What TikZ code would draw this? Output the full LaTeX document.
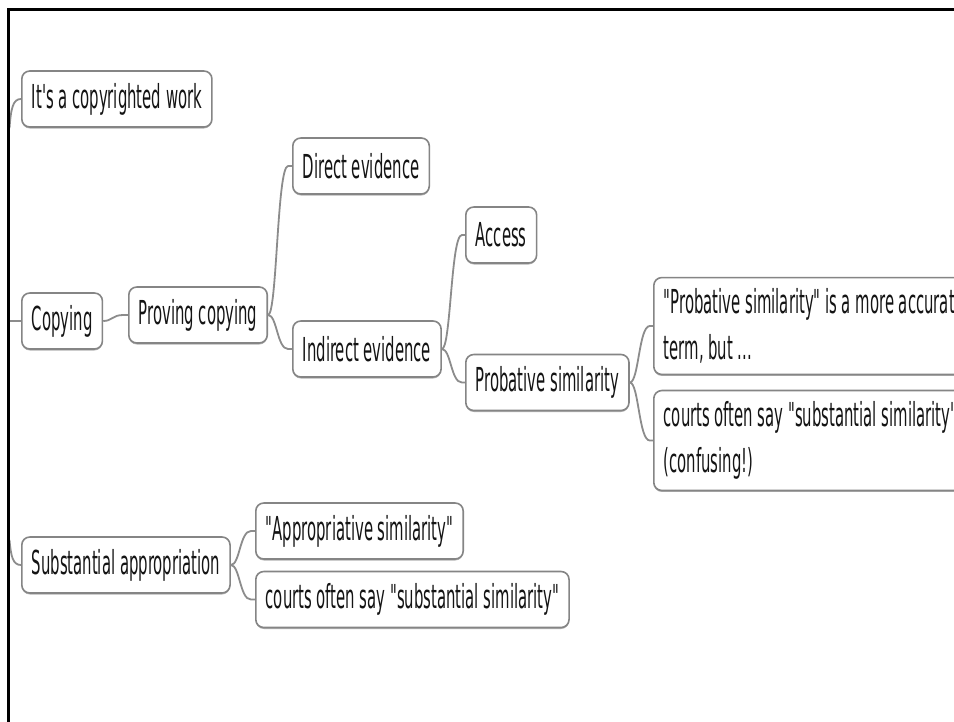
\documentclass[tikz,border=0pt]{standalone}
\usepackage{fontspec}
\setmainfont{DejaVu Sans}[FakeStretch=0.45, Ligatures=TeXOff]
\usetikzlibrary{shadows}
\definecolor{boxgray}{HTML}{858585}
\definecolor{linkgray}{HTML}{8C8C8C}
\definecolor{textblack}{HTML}{141414}
\begin{document}
\begin{tikzpicture}[x=1pt,y=-1pt,
  box/.style={draw=boxgray, line width=1.6pt, rounded corners=8pt, fill=white,
    minimum height=56pt, inner xsep=10pt, inner ysep=0pt, anchor=west,
    font=\fontsize{33}{46}\selectfont, text=textblack,
    drop shadow={shadow xshift=0pt, shadow yshift=-1.5pt, opacity=0.3, fill=black}},
  notebox/.style={box, text width=360pt, align=flush left, inner ysep=11pt},
  conn/.style={draw=linkgray, line width=1.8pt},
  link/.style={conn, to path={(\tikztostart) .. controls ([xshift=9pt]\tikztostart) and ([xshift=9pt]\tikztostart |- \tikztotarget) .. ([xshift=20pt]\tikztostart |- \tikztotarget) -- (\tikztotarget)}}
]
\useasboundingbox (0,0) rectangle (954,721);
\fill[white] (0,0) rectangle (954,721);
\begin{scope}
\clip (0,0) rectangle (954,721);
% nodes
\node[box] (cw) at (21,99) {It's a copyrighted work};
\node[box] (cp) at (21,321) {Copying};
\node[box] (pc) at (128,315) {Proving copying};
\node[box] (de) at (292,166) {Direct evidence};
\node[box] (ie) at (292,349) {Indirect evidence};
\node[box] (ac) at (465,235) {Access};
\node[box] (ps) at (465,382.5) {Probative similarity};
\node[notebox] (n1) at (653,326) {"Probative similarity" is a more accurate\\term, but ...};
\node[notebox] (n2) at (653,440.5) {courts often say "substantial similarity"\\(confusing!)};
\node[box] (sa) at (21,565) {Substantial appropriation};
\node[box] (as) at (255,531) {"Appropriative similarity"};
\node[box] (cs) at (255,599.5) {courts often say "substantial similarity"};
% root connectors entering from the left edge
\coordinate (r1) at (9.5,128);
\coordinate (r2) at (9.5,321);
\coordinate (r3) at (9.5,540);
\draw[conn] (r1) .. controls (11,108) and (13,99) .. (cw.west);
\draw[conn] (r2) -- (cp.west);
\draw[conn] (r3) .. controls (11,557) and (13,565) .. (sa.west);
% tree connectors
\draw[link] (cp.east) to (pc.west);
\draw[link] (pc.east) to (de.west);
\draw[link] (pc.east) to (ie.west);
\draw[link] (ie.east) to (ac.west);
\draw[link] (ie.east) to (ps.west);
\draw[link] (ps.east) to (n1.west);
\draw[link] (ps.east) to (n2.west);
\draw[link] (sa.east) to (as.west);
\draw[link] (sa.east) to (cs.west);
% frame
\draw[line width=3pt, black] (8.3,730) -- (8.3,9.5) -- (960,9.5);
\end{scope}
\end{tikzpicture}
\end{document}
